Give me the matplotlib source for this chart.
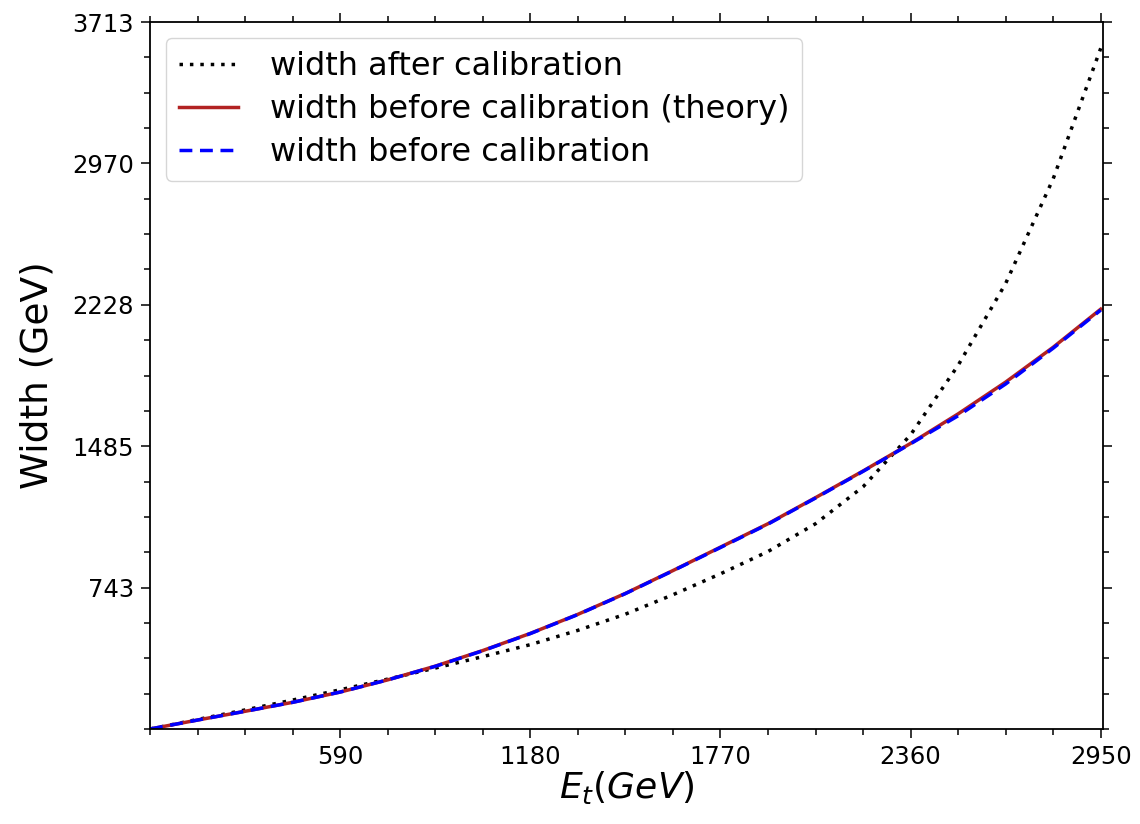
import numpy as np
import matplotlib
matplotlib.use('Agg')
import matplotlib.pyplot as plt
from matplotlib.ticker import AutoMinorLocator

# energy grid (GeV)
energy = [0, 147.5, 295, 442.5, 590, 737.5, 885, 1032.5, 1180, 1327.5, 1475,
          1622.5, 1770, 1917.5, 2065, 2212.5, 2360, 2507.5, 2655, 2802.5, 2950]

width_after = [0, 50, 100, 152, 206, 262, 320, 380, 443, 518, 603,
               705, 815, 932, 1078, 1272, 1545, 1910, 2340, 2890, 3575]
width_theory = [0, 47, 93, 140, 194, 258, 330, 412, 502, 602, 712,
                832, 955, 1078, 1215, 1355, 1500, 1655, 1822, 2005, 2205]
width_before = [0, 47, 93, 140, 194, 258, 329, 411, 501, 601, 711,
                831, 953, 1076, 1213, 1353, 1498, 1645, 1812, 2000, 2200]

xtick_vals = [590, 1180, 1770, 2360, 2950]
ytick_vals = [742.6, 1485.2, 2227.8, 2970.4, 3713]
ytick_labels = ['743', '1485', '2228', '2970', '3713']

fig = plt.figure(figsize=(11.4, 8.24), dpi=100)
ax = fig.add_axes([150 / 1140, 1 - 729 / 824, (1103 - 150) / 1140, (729 - 22) / 824])

ax.plot(energy, width_after, color='black', linestyle=(0, (1, 2)), linewidth=2.5,
        label='width after calibration')
ax.plot(energy, width_theory, color='firebrick', linestyle='-', linewidth=2.5,
        label='width before calibration (theory)')
ax.plot(energy, width_before, color='blue', linestyle=(0, (3.7, 2.2)), linewidth=2.5,
        label='width before calibration')

ax.set_xlim(0, 2957)
ax.set_ylim(0, 3713)
ax.set_xticks(xtick_vals)
ax.set_xticklabels([str(v) for v in xtick_vals])
ax.set_yticks(ytick_vals)
ax.set_yticklabels(ytick_labels)
ax.xaxis.set_minor_locator(AutoMinorLocator(4))
ax.yaxis.set_minor_locator(AutoMinorLocator(4))

ax.tick_params(which='both', direction='out', top=True, right=True, labelsize=17.5, width=1.1)
ax.tick_params(which='major', length=6.5, pad=5)
ax.tick_params(which='minor', length=4)
for sp in ax.spines.values():
    sp.set_linewidth(1.3)

ax.set_xlabel('$E_t(GeV)$', fontsize=26, labelpad=0)
ax.set_ylabel('Width (GeV)', fontsize=27, labelpad=12)

ax.legend(loc='upper left', fontsize=23, labelspacing=0.38, handlelength=1.85,
          handletextpad=1.0)

plt.savefig('out.png', dpi=100)
